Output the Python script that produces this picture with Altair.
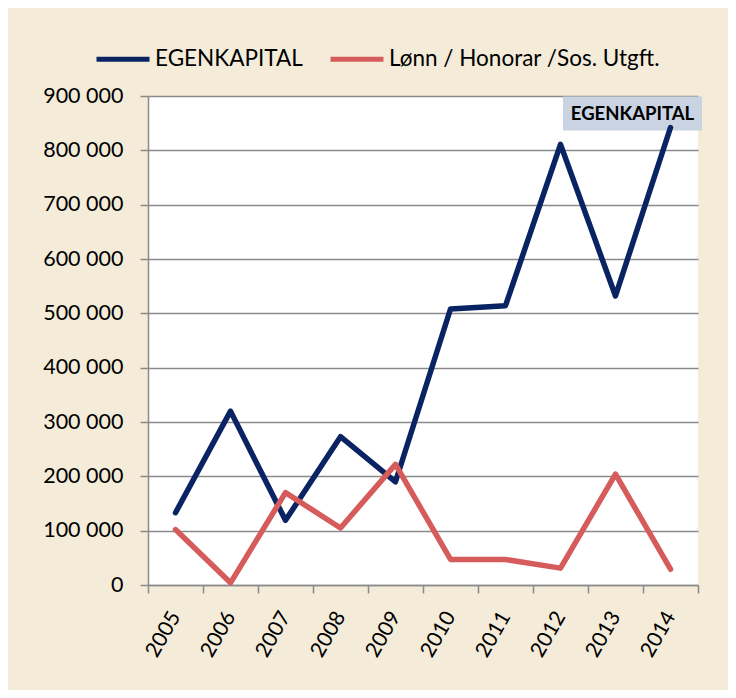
import altair as alt
import pandas as pd

years = ["2005", "2006", "2007", "2008", "2009", "2010", "2011", "2012", "2013", "2014"]
egenkapital = [133000, 320000, 119000, 273000, 190000, 508000, 514000, 811000, 532000, 842000]
lonn = [102000, 4000, 170000, 105000, 222000, 47000, 47000, 31000, 204000, 29000]
series_names = ["EGENKAPITAL", "Lønn / Honorar /Sos. Utgft."]
series_colors = ["#0a2463", "#d65c5c"]
y_ticks = [0, 100000, 200000, 300000, 400000, 500000, 600000, 700000, 800000, 900000]

rows = []
for i, y in enumerate(years):
    rows.append({"year": y, "series": series_names[0], "value": egenkapital[i]})
for i, y in enumerate(years):
    rows.append({"year": y, "series": series_names[1], "value": lonn[i]})
df = pd.DataFrame(rows)

AXIS_GRAY = "#8a8a8a"
FONT = "Lato"

x_enc = alt.X(
    "year:O",
    sort=years,
    bandPosition=0.5,
    scale=alt.Scale(type="band", paddingInner=0, paddingOuter=0),
    axis=alt.Axis(
        title=None, labelAngle=-60, labelAlign="right", labelBaseline="middle",
        labelPadding=20, tickBand="extent", tickSize=8, grid=False,
        labelFont=FONT, labelFontSize=21, labelColor="black",
        domainColor=AXIS_GRAY, tickColor=AXIS_GRAY, domainWidth=1.5, tickWidth=1.5,
    ),
)
y_enc = alt.Y(
    "value:Q",
    scale=alt.Scale(domain=[0, 900000], nice=False),
    axis=alt.Axis(
        title=None, values=y_ticks,
        labelExpr="replace(format(datum.value, ','), ',', ' ')",
        labelFont=FONT, labelFontSize=21.5, labelColor="black", labelPadding=17,
        tickSize=8, tickColor=AXIS_GRAY, tickWidth=1.5,
        domainColor=AXIS_GRAY, domainWidth=1.5,
        grid=True, gridColor=AXIS_GRAY, gridWidth=1.5,
    ),
)

base = alt.Chart(df)

lines = base.mark_line(strokeWidth=5.5, strokeCap="round", strokeJoin="round").encode(
    x=x_enc,
    y=y_enc,
    color=alt.Color(
        "series:N",
        scale=alt.Scale(domain=series_names, range=series_colors),
        sort=series_names,
        legend=alt.Legend(
            orient="none", legendX=-54, legendY=-66, direction="horizontal",
            title=None, symbolType="stroke", symbolStrokeWidth=5, symbolSize=2809,
            labelFont=FONT, labelFontSize=22.5, labelColor="black", labelLimit=0,
            columnPadding=17, labelOffset=3,
        ),
    ),
    order=alt.Order("series:N", sort="ascending"),
)

label_data = base.transform_filter(
    (alt.datum.series == series_names[0]) & (alt.datum.year == years[-1])
)

box = label_data.mark_point(
    shape="M-1,-0.245L1,-0.245L1,0.245L-1,0.245Z",
    size=19321, filled=True, color="#c9d3e1", opacity=1, strokeWidth=0,
    xOffset=-38, yOffset=-14,
).encode(x=x_enc, y=y_enc)

label = label_data.mark_text(
    font=FONT, fontWeight="bold", fontSize=18.5, color="black",
    dx=-38, dy=-14, align="center", baseline="middle",
).encode(x=x_enc, y=y_enc, text="series:N")

chart = alt.layer(box, lines, label).properties(
    width=550, height=489,
    autosize=alt.AutoSizeParams(type="none"),
    padding={"left": 140, "top": 88, "right": 30, "bottom": 105},
    background="#f4ecd9",
).configure_view(fill="white", strokeWidth=0)

chart.save("out.html", embed_options={"renderer": "svg", "actions": False})
